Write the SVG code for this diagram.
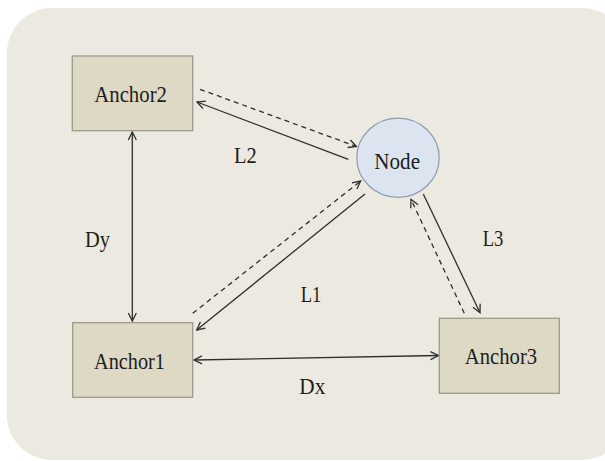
<svg xmlns="http://www.w3.org/2000/svg" width="605" height="461" viewBox="0 0 605 461">
<style>
.box{fill:#DDD9C5;stroke:#9C9A8A;stroke-width:1.3}
.lbl{font-family:'Liberation Serif','Times New Roman','DejaVu Serif',serif;font-size:22.5px;fill:#1E1E1E;text-anchor:middle}
.ln{stroke:#2E2E2E;stroke-width:1.3;fill:none}
.ds{stroke-dasharray:5 4}
</style>
<defs>
<marker id="ah" viewBox="0 0 10 10" refX="9" refY="5" markerWidth="10" markerHeight="10" markerUnits="userSpaceOnUse" orient="auto-start-reverse">
<path d="M1,1 L9,5 L1,9" fill="none" stroke="#2E2E2E" stroke-width="1.3"/>
</marker>
</defs>
<rect x="0" y="0" width="605" height="461" fill="#FFFFFF"/>
<rect x="7" y="8" width="620" height="452" rx="45" ry="45" fill="#ECEAE0"/>
<g id="connectors">
<line class="ln" x1="132.3" y1="132" x2="132.3" y2="321" marker-start="url(#ah)" marker-end="url(#ah)"/>
<line class="ln" x1="194" y1="360" x2="438.5" y2="355.5" marker-start="url(#ah)" marker-end="url(#ah)"/>
<line class="ln" x1="348.3" y1="159.3" x2="197" y2="102" marker-end="url(#ah)"/>
<line class="ln ds" x1="200" y1="89.3" x2="356.5" y2="146.5" marker-end="url(#ah)"/>
<line class="ln ds" x1="192.7" y1="313.3" x2="360.7" y2="181" marker-end="url(#ah)"/>
<line class="ln" x1="365" y1="194" x2="196.7" y2="330" marker-end="url(#ah)"/>
<line class="ln" x1="423.3" y1="194" x2="480" y2="312.7" marker-end="url(#ah)"/>
<line class="ln ds" x1="464.3" y1="313.3" x2="411" y2="199.3" marker-end="url(#ah)"/>
</g>
<g id="anchor2">
<rect class="box" x="72.3" y="56" width="120.4" height="74.7"/>
<text class="lbl" x="130.6" y="102.3" textLength="72.7" lengthAdjust="spacingAndGlyphs">Anchor2</text>
</g>
<g id="anchor1">
<rect class="box" x="72.7" y="322.7" width="120" height="74.6"/>
<text class="lbl" x="129.5" y="369" textLength="71" lengthAdjust="spacingAndGlyphs">Anchor1</text>
</g>
<g id="anchor3">
<rect class="box" x="439.3" y="318.3" width="120" height="75"/>
<text class="lbl" x="501" y="364.3" textLength="72.3" lengthAdjust="spacingAndGlyphs">Anchor3</text>
</g>
<g id="node">
<ellipse cx="398" cy="157.8" rx="41.2" ry="39.6" fill="#DCE4EF" stroke="#8C9CAE" stroke-width="1.2"/>
<text class="lbl" x="397.2" y="169" textLength="45.7" lengthAdjust="spacingAndGlyphs">Node</text>
</g>
<g id="labels">
<text class="lbl" x="245.3" y="163.3" textLength="22.7" lengthAdjust="spacingAndGlyphs">L2</text>
<text class="lbl" x="311" y="301.7" textLength="20.6" lengthAdjust="spacingAndGlyphs">L1</text>
<text class="lbl" x="493" y="246" textLength="20.6" lengthAdjust="spacingAndGlyphs">L3</text>
<text class="lbl" x="312.3" y="394" textLength="26" lengthAdjust="spacingAndGlyphs">Dx</text>
<text class="lbl" x="97.5" y="246.7" textLength="25" lengthAdjust="spacingAndGlyphs">Dy</text>
</g>
</svg>
